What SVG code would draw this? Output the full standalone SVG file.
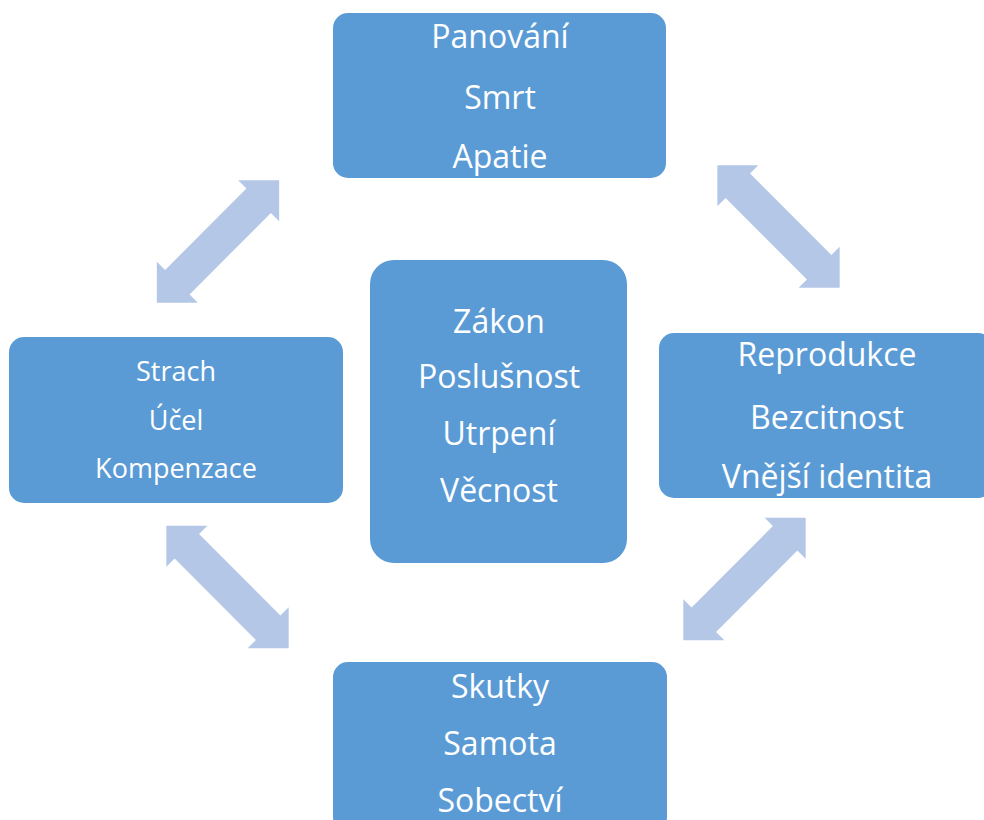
<svg xmlns="http://www.w3.org/2000/svg" width="984" height="820" viewBox="0 0 984 820">
<style>
.box{fill:#5B9BD5;}
.t{font-family:"Open Sans","Noto Sans","Liberation Sans",sans-serif;fill:#FFFFFF;text-anchor:middle;font-size:32px;}
.s{font-size:27px;}
.arr{fill:#B4C7E7;}
</style>
<defs>
<polygon id="dblarrow" points="-86.5,0 -57.5,-29 -57.5,-17.3 57.5,-17.3 57.5,-29 86.5,0 57.5,29 57.5,17.3 -57.5,17.3 -57.5,29"/>
</defs>
<rect width="984" height="820" fill="#FFFFFF"/>
<g id="connectors">
<use href="#dblarrow" class="arr" transform="translate(218,241.5) rotate(-45)"/>
<use href="#dblarrow" class="arr" transform="translate(778.5,226.5) rotate(45)"/>
<use href="#dblarrow" class="arr" transform="translate(227.5,587) rotate(45)"/>
<use href="#dblarrow" class="arr" transform="translate(744.5,579) rotate(-45)"/>
</g>
<g id="node-top">
<rect class="box" x="333" y="13" width="333" height="165" rx="15"/>
<text class="t" x="500" y="48">Panování</text>
<text class="t" x="500" y="109">Smrt</text>
<text class="t" x="500" y="168">Apatie</text>
</g>
<g id="node-right">
<rect class="box" x="659" y="333" width="334" height="165" rx="15"/>
<text class="t" x="827" y="366">Reprodukce</text>
<text class="t" x="827" y="429">Bezcitnost</text>
<text class="t" x="827" y="488">Vnější identita</text>
</g>
<g id="node-left">
<rect class="box" x="9" y="337" width="334" height="166" rx="15"/>
<text class="t s" x="176" y="381">Strach</text>
<text class="t s" x="176" y="430">Účel</text>
<text class="t s" x="176" y="478">Kompenzace</text>
</g>
<g id="node-center">
<rect class="box" x="370" y="260" width="257" height="303" rx="24"/>
<text class="t" x="499" y="333">Zákon</text>
<text class="t" x="499" y="388">Poslušnost</text>
<text class="t" x="499" y="445">Utrpení</text>
<text class="t" x="499" y="502">Věcnost</text>
</g>
<g id="node-bottom">
<rect class="box" x="333" y="662" width="334" height="170" rx="15"/>
<text class="t" x="500" y="698">Skutky</text>
<text class="t" x="500" y="755">Samota</text>
<text class="t" x="500" y="812">Sobectví</text>
</g>
</svg>
